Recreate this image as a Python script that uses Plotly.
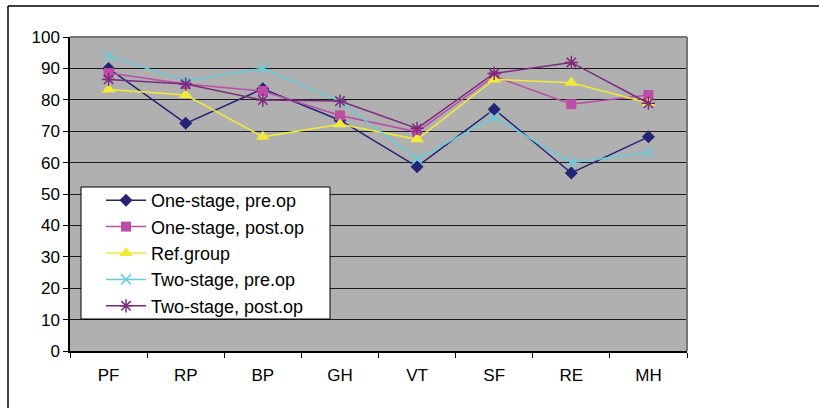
import plotly.graph_objects as go

categories = ["PF", "RP", "BP", "GH", "VT", "SF", "RE", "MH"]
one_stage_pre = [90, 72.5, 83.5, 73.5, 58.7, 77, 56.7, 68.2]
one_stage_post = [88.5, 85, 82.8, 75, 69.8, 87.5, 78.6, 81.5]
ref_group = [83.3, 81.5, 68.2, 72.2, 67.4, 86.5, 85.4, 79]
two_stage_pre = [93.9, 86, 90, 79.5, 61.1, 74.4, 60, 63.2]
two_stage_post = [86.5, 85, 79.9, 79.6, 70.9, 88.4, 91.9, 78.9]

series_names = ["One-stage, pre.op", "One-stage, post.op", "Ref.group",
                "Two-stage, pre.op", "Two-stage, post.op"]
series_values = [one_stage_pre, one_stage_post, ref_group, two_stage_pre, two_stage_post]
series_colors = ["#232377", "#BC4CA6", "#F0EA38", "#66CCDC", "#7C2A7C"]
series_symbols = ["diamond", "square", "triangle-up", "x-thin", "asterisk"]
series_sizes = [10, 10, 12, 10, 11]

FONT = "Liberation Sans, Arial, sans-serif"

W, H = 819, 408
PL, PR, PT, PB = 70, 687, 37, 351
pw = PR - PL
ph = PB - PT

def px(x):
    return (x - PL) / pw

def py(y):
    return (PB - y) / ph

fig = go.Figure()
for i, (name, vals, col, sym, sz) in enumerate(zip(series_names, series_values,
                                                   series_colors, series_symbols, series_sizes)):
    thin = sym in ("x-thin", "asterisk")
    fig.add_trace(go.Scatter(
        x=categories, y=vals, name=name, mode="lines+markers",
        line=dict(color=col, width=1.5),
        marker=dict(symbol=sym, size=sz, color=col,
                    line=dict(color=col, width=1.5 if thin else 0)),
        legendgroup=f"g{i}",
    ))

fig.update_layout(
    width=W, height=H,
    margin=dict(l=PL, r=W - PR, t=PT, b=H - PB),
    paper_bgcolor="white",
    plot_bgcolor="#B0B0B0",
    font=dict(family=FONT, size=17, color="black"),
    showlegend=True,
    legend=dict(
        x=px(101), y=py(182), xanchor="left", yanchor="top",
        bgcolor="rgba(0,0,0,0)", borderwidth=0,
        font=dict(family=FONT, size=18, color="black"),
        tracegroupgap=0, itemwidth=40,
    ),
    xaxis=dict(
        type="category", showgrid=False, showline=True, linecolor="black", linewidth=1.5,
        ticks="outside", ticklen=5, tickcolor="black", tickson="boundaries",
        tickfont=dict(family=FONT, size=17, color="black"),
        ticklabelstandoff=8,
        range=[-0.5, 7.5], fixedrange=True,
    ),
    yaxis=dict(
        range=[0, 100], dtick=10, tick0=0, showgrid=True, gridcolor="#1a1a1a", gridwidth=1,
        showline=True, linecolor="black", linewidth=1.5, zeroline=False,
        ticks="outside", ticklen=5, tickcolor="black",
        tickfont=dict(family=FONT, size=17, color="black"),
    ),
    shapes=[
        dict(type="line", xref="paper", yref="paper", x0=0, x1=1, y0=1, y1=1,
             line=dict(color="#777777", width=2)),
        dict(type="line", xref="paper", yref="paper", x0=1, x1=1, y0=0, y1=1,
             line=dict(color="#777777", width=2)),
        dict(type="rect", xref="paper", yref="paper", layer="above",
             x0=px(81), x1=px(330), y0=py(319), y1=py(187),
             fillcolor="white", line=dict(color="black", width=1)),
        dict(type="line", xref="paper", yref="paper",
             x0=px(8), x1=1.5, y0=py(6), y1=py(6),
             line=dict(color="black", width=1.5)),
        dict(type="line", xref="paper", yref="paper",
             x0=px(8), x1=px(8), y0=-0.5, y1=py(6),
             line=dict(color="black", width=1.5)),
    ],
)

fig.write_html("out.html", config={"displayModeBar": False},
               post_script="document.body.style.margin='0';")
